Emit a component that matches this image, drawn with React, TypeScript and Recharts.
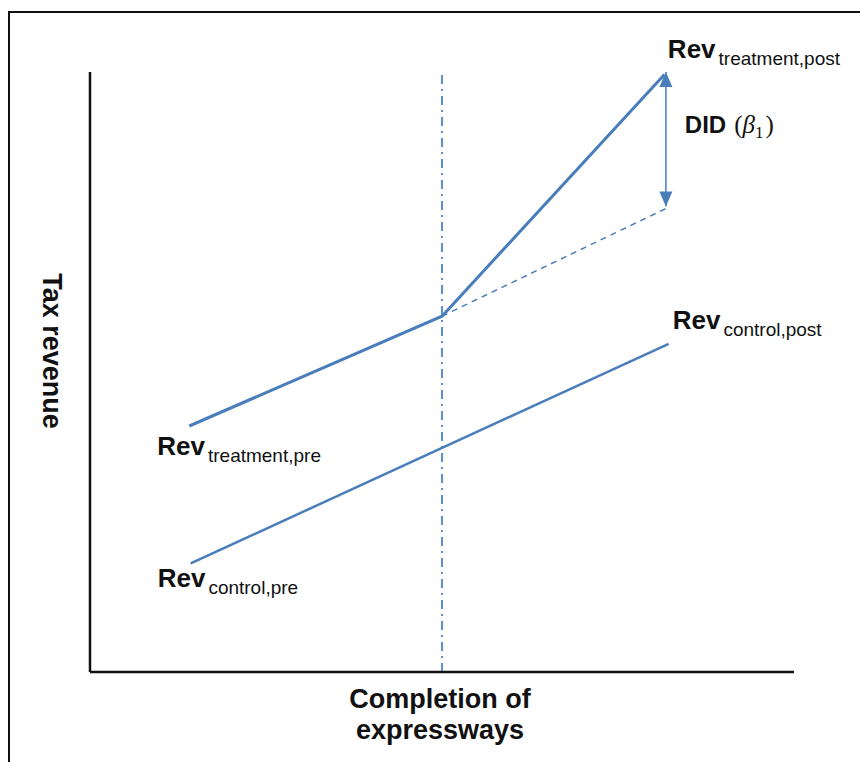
import React from 'react';
import { LineChart, Line, XAxis, YAxis, ReferenceLine, ReferenceDot, Label } from 'recharts';

const FONT = '"Liberation Sans", Arial, Helvetica, sans-serif';
const SERIF = '"Liberation Serif", "DejaVu Serif", serif';
const BLUE = '#4a7ebb';
const BLUE_LIGHT = '#5b8fd0';

// data (x: time index 0-100, y: revenue index 0-100)
const treatment = [
  { x: 14.1, y: 41.0 },
  { x: 50.0, y: 59.3 },
  { x: 81.6, y: 99.6 },
];
const counterfactual = [
  { x: 50.0, y: 59.3 },
  { x: 81.9, y: 77.3 },
];
const control = [
  { x: 14.3, y: 18.1 },
  { x: 82.2, y: 54.7 },
];
const didArrow = [
  { x: 81.8, y: 100 },
  { x: 81.8, y: 77.6 },
];
const completionX = 50;

const revLabels = [
  { id: 'tpre', x: 14.1, y: 41.0, main: 'Rev', sub: 'treatment,pre' },
  { id: 'cpre', x: 14.3, y: 18.1, main: 'Rev', sub: 'control,pre' },
  { id: 'tpost', x: 81.8, y: 100, main: 'Rev', sub: 'treatment,post' },
  { id: 'cpost', x: 82.2, y: 54.7, main: 'Rev', sub: 'control,post' },
];
const didLabel = { x: 81.8, y: 88.8, text: 'DID', greek: 'β', sub: '1' };
const xTitle = ['Completion of', 'expressways'];
const yTitle = 'Tax revenue';

const labelOffsets: Record<string, { dx: number; dy: number }> = {
  tpre: { dx: -32, dy: 29 },
  cpre: { dx: -33, dy: 24 },
  tpost: { dx: 2, dy: -14 },
  cpost: { dx: 4, dy: -15 },
};

const ArrowHead = (props: any) => {
  const { cx, cy, index } = props;
  if (cx == null || cy == null) return null;
  const h = 15;
  const w = 6.5;
  const pts =
    index === 0
      ? `${cx},${cy} ${cx - w},${cy + h} ${cx + w},${cy + h}`
      : `${cx},${cy} ${cx - w},${cy - h} ${cx + w},${cy - h}`;
  return <polygon key={`ah-${index}`} points={pts} fill={BLUE} />;
};

const RevLabel = (props: any) => {
  const { viewBox, item } = props;
  if (!viewBox) return null;
  const cx = viewBox.x + (viewBox.width || 0) / 2;
  const cy = viewBox.y + (viewBox.height || 0) / 2;
  const off = labelOffsets[item.id];
  return (
    <text x={cx + off.dx} y={cy + off.dy} fontFamily={FONT} fill="#111">
      <tspan fontSize={26} fontWeight="bold">{item.main}</tspan>
      <tspan fontSize={19} dx={3} dy={7}>{item.sub}</tspan>
    </text>
  );
};

const DidText = (props: any) => {
  const { viewBox } = props;
  if (!viewBox) return null;
  const cx = viewBox.x + (viewBox.width || 0) / 2;
  const cy = viewBox.y + (viewBox.height || 0) / 2;
  return (
    <text x={cx + 19} y={cy - 6} fill="#111">
      <tspan fontFamily={FONT} fontSize={24} fontWeight="bold">{didLabel.text}</tspan>
      <tspan fontFamily={SERIF} fontSize={25} dx={8}>(</tspan>
      <tspan fontFamily={SERIF} fontSize={25} fontStyle="italic">{didLabel.greek}</tspan>
      <tspan fontFamily={SERIF} fontSize={17} dy={5}>{didLabel.sub}</tspan>
      <tspan fontFamily={SERIF} fontSize={25} dy={-5} dx={2}>)</tspan>
    </text>
  );
};

const XTitle = (props: any) => {
  const { viewBox } = props;
  if (!viewBox) return null;
  const cx = viewBox.x + viewBox.width / 2 - 2;
  const y = viewBox.y;
  return (
    <text textAnchor="middle" fontFamily={FONT} fontSize={27} fontWeight="bold" fill="#111">
      <tspan x={cx} y={y + 35.5}>{xTitle[0]}</tspan>
      <tspan x={cx} y={y + 66.5}>{xTitle[1]}</tspan>
    </text>
  );
};

const YTitle = (props: any) => {
  const { viewBox } = props;
  if (!viewBox) return null;
  const x = viewBox.x + viewBox.width - 47;
  const y = viewBox.y + viewBox.height / 2 - 21;
  return (
    <text
      x={x}
      y={y}
      textAnchor="middle"
      fontFamily={FONT}
      fontSize={27}
      fontWeight="bold"
      fill="#111"
      transform={`rotate(90, ${x}, ${y})`}
    >
      {yTitle}
    </text>
  );
};

export default function App() {
  return (
    <div style={{ position: 'absolute', left: 0, top: 0, width: 860, height: 762, background: '#fff', overflow: 'hidden' }}>
      <div
        style={{
          position: 'absolute',
          left: 8,
          top: 11,
          width: 852,
          height: 751,
          borderLeft: '2px solid #111',
          borderTop: '2px solid #111',
          boxSizing: 'border-box',
        }}
      />
      <div style={{ position: 'absolute', left: 0, top: 0 }}>
        <LineChart width={860} height={762} margin={{ top: 72, right: 66, bottom: 60, left: 60 }}>
          <XAxis
            type="number"
            dataKey="x"
            domain={[0, 100]}
            height={30}
            tick={false}
            tickLine={false}
            axisLine={{ stroke: '#111', strokeWidth: 2.5 }}
          >
            <Label content={<XTitle />} />
          </XAxis>
          <YAxis
            type="number"
            dataKey="y"
            domain={[0, 100]}
            width={30}
            tick={false}
            tickLine={false}
            axisLine={{ stroke: '#111', strokeWidth: 2.5 }}
          >
            <Label content={<YTitle />} />
          </YAxis>
          <ReferenceLine
            x={completionX}
            stroke={BLUE_LIGHT}
            strokeWidth={2}
            strokeDasharray="9 5 2 5"
          />
          <Line
            data={counterfactual}
            dataKey="y"
            stroke={BLUE}
            strokeWidth={1.5}
            strokeDasharray="6 5"
            dot={false}
            activeDot={false}
            isAnimationActive={false}
          />
          <Line
            data={control}
            dataKey="y"
            stroke={BLUE}
            strokeWidth={2.5}
            dot={false}
            activeDot={false}
            isAnimationActive={false}
          />
          <Line
            data={treatment}
            dataKey="y"
            stroke={BLUE}
            strokeWidth={3}
            dot={false}
            activeDot={false}
            isAnimationActive={false}
          />
          <Line
            data={didArrow}
            dataKey="y"
            stroke={BLUE_LIGHT}
            strokeWidth={1.8}
            dot={<ArrowHead />}
            activeDot={false}
            isAnimationActive={false}
          />
          {revLabels.map((item) => (
            <ReferenceDot
              key={item.id}
              x={item.x}
              y={item.y}
              r={1}
              fill="none"
              stroke="none"
              label={<RevLabel item={item} />}
            />
          ))}
          <ReferenceDot
            x={didLabel.x}
            y={didLabel.y}
            r={1}
            fill="none"
            stroke="none"
            label={<DidText />}
          />
        </LineChart>
      </div>
    </div>
  );
}
